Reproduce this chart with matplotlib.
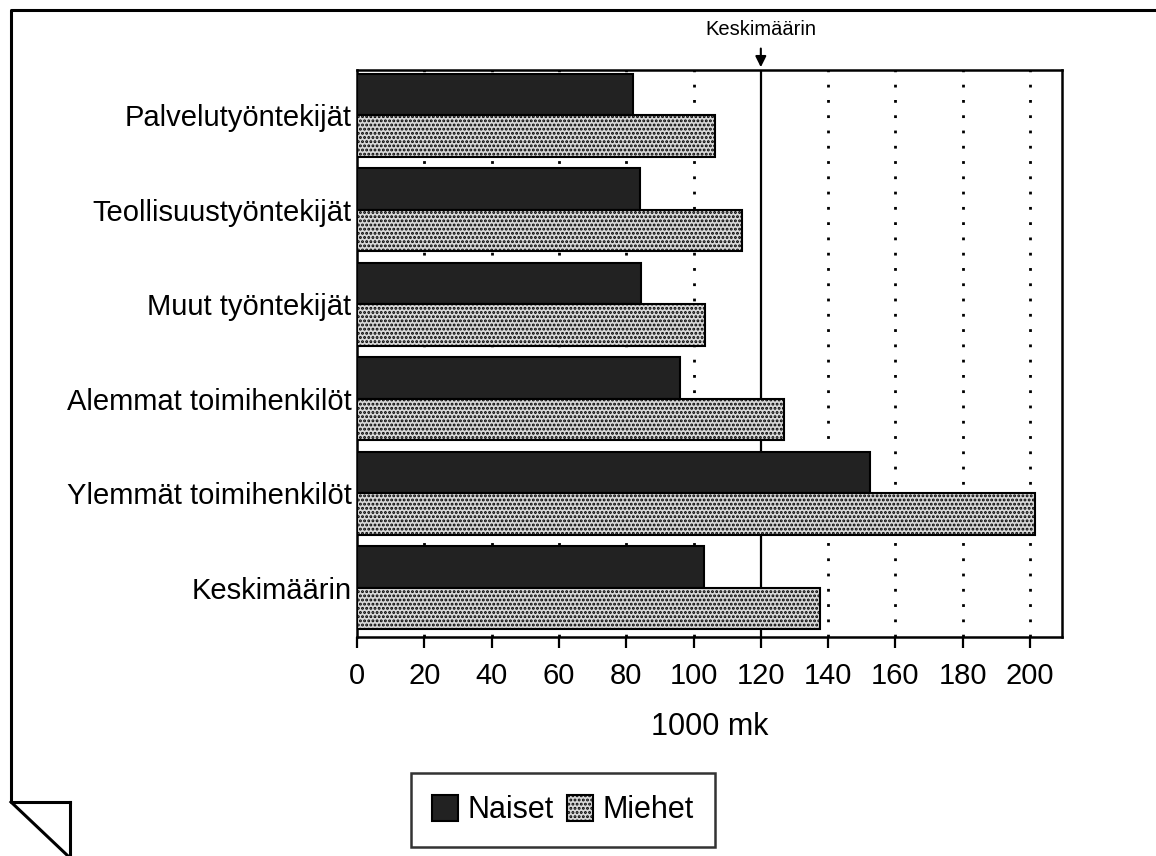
import matplotlib
matplotlib.use("Agg")
import matplotlib.pyplot as plt
import numpy as np

# palkkatulot, 1000 mk
categories = ["Palvelutyöntekijät", "Teollisuustyöntekijät", "Muut työntekijät",
              "Alemmat toimihenkilöt", "Ylemmät toimihenkilöt", "Keskimäärin"]
naiset = [82, 84, 84.5, 96, 152.5, 103]
miehet = [106.5, 114.5, 103.3, 127, 201.5, 137.5]
keskimaarin = 120
xticks = [0, 20, 40, 60, 80, 100, 120, 140, 160, 180, 200]

plt.rcParams["font.family"] = ["Liberation Sans", "DejaVu Sans"]
plt.rcParams["hatch.linewidth"] = 1.4

W, H = 1156, 856
fig = plt.figure(figsize=(W / 100, H / 100), dpi=100)

# page frame with folded corner
bg = fig.add_axes([0, 0, 1, 1], zorder=0)
bg.set_xlim(0, W); bg.set_ylim(H, 0); bg.axis("off")
kw = dict(color="black", lw=2.2, solid_capstyle="projecting")
bg.plot([W, 11, 11, 70], [10, 10, 802, 802], **kw)
bg.plot([70, 70], [802, H], **kw)
bg.plot([11, 68], [802, H], **kw)

ax = fig.add_axes([357 / W, 1 - 637 / H, 705 / W, 567 / H], zorder=1)
y = np.arange(len(categories))
h = 0.44
ax.barh(y - h / 2, naiset, height=h, color="#222222", edgecolor="black", lw=1.5, zorder=3, label="Naiset")
ax.barh(y + h / 2, miehet, height=h, color="#d8d8d8", edgecolor="black", hatch="....", lw=1.5, zorder=3, label="Miehet")

for t in xticks[1:]:
    if t == keskimaarin:
        ax.axvline(t, color="black", lw=1.6, zorder=2)
    else:
        ax.axvline(t, color="black", lw=2, ls=(0, (1, 4.5)), zorder=2)

ax.set_xlim(0, 209.5)
ax.set_ylim(5.52, -0.48)
ax.set_xticks(xticks)
ax.set_yticks(y)
ax.set_yticklabels(categories, fontsize=21)
ax.tick_params(axis="x", labelsize=21, length=8, width=1.6, direction="out", pad=10)
ax.tick_params(axis="y", length=0, pad=4)
ax.set_xlabel("1000 mk", fontsize=22, labelpad=16)
for s in ax.spines.values():
    s.set_linewidth(1.8)

ax.annotate("Keskimäärin", xy=(keskimaarin, -0.48), xytext=(keskimaarin, -0.81),
            ha="center", va="bottom", fontsize=14.5, annotation_clip=False,
            arrowprops=dict(arrowstyle="-|>", color="black", lw=1.5, mutation_scale=16,
                            shrinkA=5, shrinkB=2))

leg = fig.legend(loc="center", bbox_to_anchor=(563 / W, 1 - 810 / H), ncol=2, fontsize=22,
                 frameon=True, fancybox=False, edgecolor="black", handlelength=0.85,
                 handleheight=0.95, handletextpad=0.3, columnspacing=0.45,
                 borderpad=0.7, borderaxespad=0)
leg.get_frame().set_linewidth(1.8)

fig.savefig("out.png", dpi=100)
